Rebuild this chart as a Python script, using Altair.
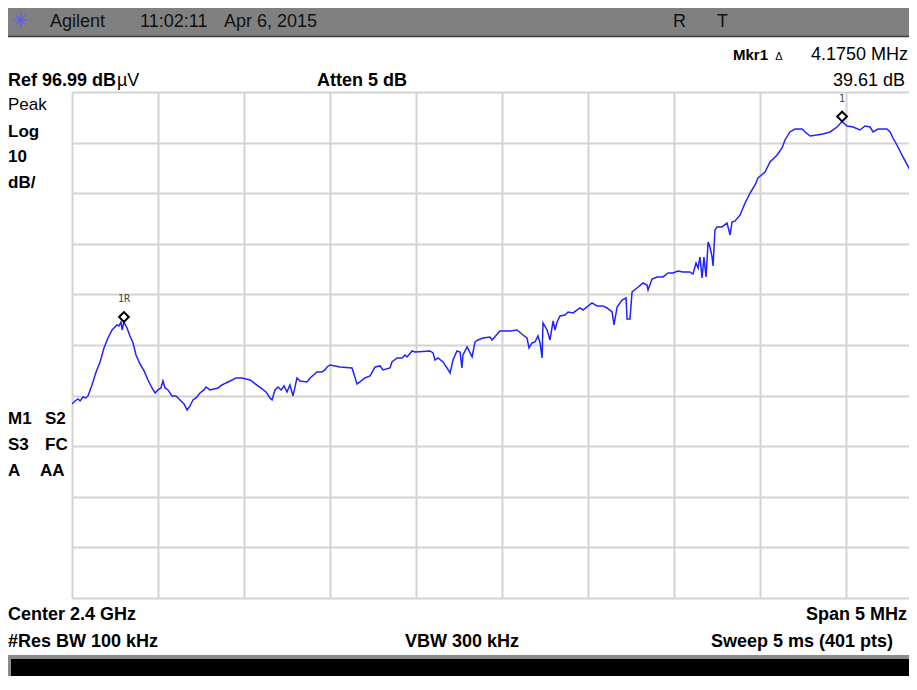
import altair as alt
import pandas as pd

# ---------------- data ----------------
span_start_mhz = 2397.5          # Center 2.4 GHz, Span 5 MHz
ref_level = 96.99                # Ref 96.99 dBuV, 10 dB/div

freq_offset_mhz = [
    0.000, 0.017, 0.035, 0.047, 0.064, 0.081, 0.093, 0.116, 0.140, 0.163,
    0.186, 0.209, 0.233, 0.262, 0.273, 0.285, 0.291, 0.302, 0.320, 0.337,
    0.355, 0.372, 0.395, 0.419, 0.442, 0.465, 0.483, 0.500, 0.517, 0.529,
    0.541, 0.558, 0.581, 0.605, 0.628, 0.651, 0.669, 0.686, 0.703, 0.721,
    0.744, 0.767, 0.779, 0.802, 0.826, 0.849, 0.872, 0.895, 0.919, 0.953,
    0.988, 1.012, 1.035, 1.058, 1.081, 1.105, 1.128, 1.151, 1.163, 1.180,
    1.198, 1.215, 1.233, 1.250, 1.267, 1.285, 1.308, 1.326, 1.366, 1.384,
    1.424, 1.453, 1.471, 1.483, 1.500, 1.558, 1.628, 1.657, 1.674, 1.703,
    1.733, 1.762, 1.791, 1.808, 1.849, 1.860, 1.890, 1.919, 1.936, 1.948,
    1.977, 1.994, 2.081, 2.099, 2.110, 2.128, 2.157, 2.180, 2.198, 2.215,
    2.238, 2.256, 2.267, 2.273, 2.297, 2.326, 2.343, 2.360, 2.390, 2.430,
    2.442, 2.488, 2.547, 2.587, 2.622, 2.645, 2.657, 2.674, 2.692, 2.709,
    2.721, 2.733, 2.738, 2.762, 2.779, 2.797, 2.808, 2.820, 2.837, 2.866,
    2.884, 2.913, 2.953, 2.971, 3.023, 3.052, 3.087, 3.110, 3.140, 3.151,
    3.169, 3.198, 3.221, 3.227, 3.244, 3.256, 3.285, 3.320, 3.343, 3.349,
    3.372, 3.401, 3.436, 3.465, 3.494, 3.523, 3.552, 3.593, 3.610, 3.628,
    3.640, 3.651, 3.663, 3.674, 3.686, 3.698, 3.709, 3.721, 3.727, 3.738,
    3.750, 3.779, 3.808, 3.826, 3.837, 3.855, 3.884, 3.913, 3.942, 3.971,
    3.988, 4.029, 4.058, 4.099, 4.128, 4.145, 4.174, 4.203, 4.244, 4.262,
    4.291, 4.331, 4.366, 4.407, 4.448, 4.477, 4.506, 4.541, 4.581, 4.610,
    4.640, 4.657, 4.686, 4.738, 4.756, 4.773, 4.802, 4.831, 4.872, 4.913,
    4.953, 5.000,
]
level_dbuv = [
    35.33, 35.93, 36.33, 35.93, 36.72, 36.52, 36.92, 39.09, 41.66, 43.64,
    46.40, 48.38, 49.96, 50.95, 50.75, 51.54, 49.96, 51.54, 50.36, 48.78,
    47.39, 45.02, 43.24, 41.86, 40.08, 38.50, 37.51, 38.11, 38.50, 39.88,
    38.50, 38.11, 36.92, 36.92, 36.13, 35.33, 34.15, 34.94, 36.13, 36.52,
    37.51, 38.11, 38.70, 38.11, 38.30, 38.50, 39.09, 39.49, 39.88, 40.48,
    40.48, 40.28, 40.08, 39.49, 38.90, 38.30, 37.71, 36.52, 36.13, 38.11,
    38.70, 38.11, 38.90, 37.71, 39.09, 36.92, 40.48, 39.88, 39.69, 40.48,
    41.66, 41.66, 42.06, 42.65, 43.05, 42.65, 42.45, 39.29, 39.69, 40.48,
    40.87, 42.65, 42.85, 42.06, 42.45, 43.64, 44.43, 44.43, 45.02, 44.63,
    45.81, 45.61, 45.81, 45.42, 44.03, 44.43, 43.64, 42.45, 41.46, 44.03,
    45.81, 45.61, 42.45, 45.02, 46.60, 44.63, 47.59, 47.99, 48.38, 48.58,
    47.99, 49.76, 49.76, 49.96, 48.97, 48.38, 46.40, 47.39, 47.59, 48.78,
    47.39, 44.43, 51.34, 49.96, 47.99, 51.74, 49.96, 51.54, 52.73, 52.93,
    53.52, 53.32, 54.31, 53.91, 55.30, 54.71, 54.71, 54.31, 53.52, 50.95,
    54.51, 55.89, 56.29, 52.13, 52.13, 57.47, 58.26, 59.25, 58.85, 57.87,
    60.04, 60.44, 60.44, 61.22, 61.22, 61.62, 61.42, 61.42, 61.02, 63.20,
    62.21, 64.39, 60.24, 64.39, 60.44, 67.35, 66.36, 64.39, 62.61, 69.72,
    70.32, 70.32, 71.10, 68.73, 71.30, 71.50, 72.69, 75.06, 77.03, 78.61,
    80.00, 81.18, 83.16, 84.54, 85.92, 87.51, 89.09, 89.68, 89.68, 89.09,
    88.30, 88.49, 88.69, 89.09, 90.07, 91.15, 90.27, 90.07, 89.48, 90.27,
    90.07, 89.09, 89.68, 89.68, 89.09, 87.90, 86.12, 84.15, 81.58, 80.00,
    78.42, 76.83,
]

marker_freq_mhz = [2397.802, 2401.977]
marker_level = [51.54, 91.15]
marker_label = ["1R", "1"]

df = pd.DataFrame({
    "freq": [span_start_mhz + f for f in freq_offset_mhz],
    "level": level_dbuv,
})
mdf = pd.DataFrame({"freq": marker_freq_mhz, "level": marker_level, "label": marker_label})

# ---------------- layout ----------------
W, H = 837, 506                       # visible part of the graticule
X0, Y0 = 72, 92                       # page position of the graticule
x_domain = [2397.5, 2402.366]         # right edge of the screen cuts the span
y_domain = [ref_level - 100, ref_level]
x_grid = [2397.5 + 0.5 * k for k in range(10)]
y_grid = [ref_level - 10 * k for k in range(11)]

GRID = "#d3d3d3"
FONT = "Liberation Sans"

x_enc = alt.X("freq:Q", scale=alt.Scale(domain=x_domain, nice=False, zero=False),
              axis=alt.Axis(values=x_grid, grid=True, gridColor=GRID, gridWidth=2,
                            labels=False, ticks=False, domain=False, title=None))
y_enc = alt.Y("level:Q", scale=alt.Scale(domain=y_domain, nice=False, zero=False),
              axis=alt.Axis(values=y_grid, grid=True, gridColor=GRID, gridWidth=2,
                            labels=False, ticks=False, domain=False, title=None))

one = pd.DataFrame({"a": [0]})


def px(x):
    return alt.value(x - X0)


def py(y):
    return alt.value(y - Y0)


def box(x1, y1, x2, y2, color):
    return alt.Chart(one).mark_rect(color=color).encode(
        x=px(x1), x2=px(x2), y=py(y1), y2=py(y2))


def txt(s, x, y, size=18, bold=False, align="left", color="#000000", font=FONT):
    return alt.Chart(one).mark_text(
        align=align, baseline="alphabetic", fontSize=size,
        fontWeight="bold" if bold else "normal", font=font, color=color,
    ).encode(x=px(x), y=py(y), text=alt.value(s))


trace = alt.Chart(df).mark_line(color="#2222ff", strokeWidth=1.5, clip=True).encode(
    x=x_enc, y=y_enc)

markers = alt.Chart(mdf).mark_point(
    shape="diamond", filled=False, color="#000000", strokeWidth=2, size=95,
    yOffset=-5, opacity=1).encode(x="freq:Q", y="level:Q")

marker_text = alt.Chart(mdf).mark_text(
    dy=-20, baseline="alphabetic", fontSize=10, font="DejaVu Sans Mono",
    color="#444444").encode(x="freq:Q", y="level:Q", text="label:N")

decor = [
    # top status bar
    box(0, 3, 917, 36, "#808080"),
    alt.Chart(one).mark_rule(color="#3a3a3a", strokeWidth=1.5).encode(
        x=px(0), x2=px(917), y=py(36.5)),
    txt("\u2733", 20, 27, size=20, color="#5a5aff", align="center", font="DejaVu Sans"),
    txt("Agilent", 50, 27, color="#111111"),
    txt("11:02:11", 140, 27, color="#111111"),
    txt("Apr 6, 2015", 224, 27, color="#111111"),
    txt("R", 673, 27, color="#111111"),
    txt("T", 717, 27, color="#111111"),
    # marker readout
    txt("Mkr1", 768, 60, size=15, bold=True, align="right"),
    txt("\u0394", 779, 60, size=11, align="center"),
    txt("4.1750 MHz", 908, 60, size=18, align="right"),
    txt("39.61 dB", 905, 86, size=18, align="right"),
    txt("Ref 96.99 dB", 8, 86, bold=True),
    txt("\u00b5V", 117, 86),
    txt("Atten 5 dB", 317, 86, bold=True),
    # left annotations
    txt("Peak", 8, 110, size=17),
    txt("Log", 8, 137, size=17, bold=True),
    txt("10", 8, 162, size=17, bold=True),
    txt("dB/", 8, 188, size=17, bold=True),
    txt("M1", 8, 424, size=17, bold=True),
    txt("S2", 45, 424, size=17, bold=True),
    txt("S3", 8, 450, size=17, bold=True),
    txt("FC", 45, 450, size=17, bold=True),
    txt("A", 8, 476, size=17, bold=True),
    txt("AA", 40, 476, size=17, bold=True),
    # bottom readout
    txt("Center 2.4 GHz", 8, 620, bold=True),
    txt("Span 5 MHz", 907, 620, bold=True, align="right"),
    txt("#Res BW 100 kHz", 8, 647, bold=True),
    txt("VBW 300 kHz", 405, 647, bold=True),
    txt("Sweep 5 ms (401 pts)", 711, 647, bold=True),
    # black message bar
    box(8, 655, 917, 700, "#8a8a8a"),
    box(11, 659, 917, 700, "#000000"),
]

chart = alt.layer(trace, markers, marker_text, *decor).properties(
    width=W, height=H,
    autosize=alt.AutoSizeParams(type="none"),
    padding={"left": 64, "top": 84, "right": 0, "bottom": 78},
    background="#ffffff",
).configure_view(stroke=None)

chart.save("out.html", embed_options={"renderer": "svg", "actions": False})
